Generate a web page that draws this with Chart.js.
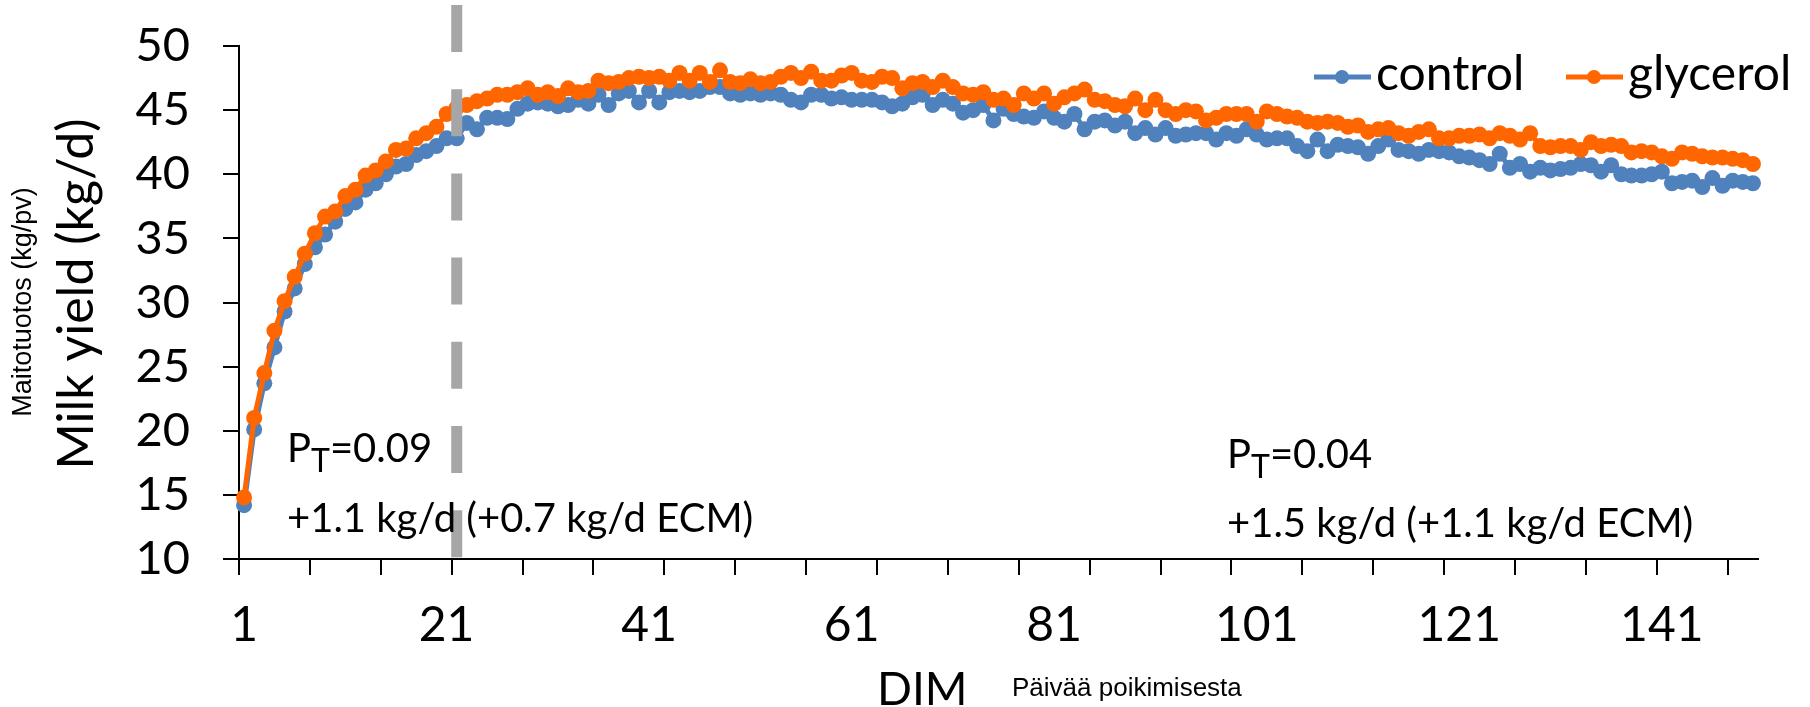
<!DOCTYPE html>
<html>
<head>
<meta charset="utf-8">
<script src="https://cdn.jsdelivr.net/npm/chart.js@4.4.0/dist/chart.umd.min.js"></script>
<style>
html, body { margin: 0; padding: 0; background: #fff; }
</style>
</head>
<body>
<canvas id="myChart" width="1810" height="707"></canvas>
<script>
// days in milk, 1..150
var days = [];
for (var d = 1; d <= 150; d++) days.push(String(d));
var xTickLabels = ['1', '21', '41', '61', '81', '101', '121', '141'];
var treatmentLineDay = '22';

var control = [
  14.2, 20.1, 23.7, 26.5, 29.3, 31.1, 33.0, 34.3, 35.3, 36.3,
  37.3, 37.8, 38.8, 39.3, 40.0, 40.6, 40.8, 41.5, 41.8, 42.2,
  42.8, 42.8, 44.0, 43.5, 44.4, 44.4, 44.3, 45.1, 45.5, 45.6,
  45.5, 45.3, 45.4, 45.8, 45.5, 46.2, 45.4, 46.3, 46.5, 45.6,
  46.5, 45.6, 46.4, 46.5, 46.4, 46.5, 46.8, 46.8, 46.3, 46.2,
  46.3, 46.2, 46.3, 46.2, 45.8, 45.6, 46.2, 46.2, 45.9, 46.0,
  45.8, 45.8, 45.8, 45.6, 45.3, 45.5, 46.0, 46.2, 45.4, 45.8,
  45.5, 44.8, 45.0, 45.4, 44.2, 45.1, 44.7, 44.5, 44.4, 44.9,
  44.4, 44.1, 44.7, 43.5, 44.1, 44.2, 43.8, 44.1, 43.2, 43.6,
  43.1, 43.6, 43.0, 43.1, 43.2, 43.2, 42.7, 43.2, 43.0, 43.5,
  43.1, 42.7, 42.8, 42.8, 42.2, 41.8, 42.7, 41.8, 42.3, 42.2,
  42.1, 41.6, 42.2, 42.7, 41.9, 41.8, 41.6, 41.9, 41.8, 41.7,
  41.4, 41.3, 41.1, 40.8, 41.6, 40.5, 40.8, 40.2, 40.5, 40.3,
  40.4, 40.5, 40.8, 40.7, 40.2, 40.7, 40.0, 39.9, 39.9, 40.0,
  40.2, 39.3, 39.4, 39.5, 39.0, 39.7, 39.1, 39.5, 39.4, 39.3
];

var glycerol = [
  14.8, 21.0, 24.5, 27.8, 30.1, 32.0, 33.8, 35.4, 36.7, 37.1,
  38.3, 38.8, 39.9, 40.3, 41.0, 41.9, 42.0, 42.8, 43.2, 43.7,
  44.7, 45.2, 45.4, 45.7, 45.9, 46.2, 46.2, 46.4, 46.7, 46.2,
  46.4, 46.1, 46.7, 46.4, 46.5, 47.3, 47.1, 47.2, 47.5, 47.6,
  47.5, 47.6, 47.3, 47.9, 47.3, 47.9, 47.2, 48.1, 47.2, 47.1,
  47.4, 47.1, 47.2, 47.6, 47.9, 47.5, 48.0, 47.3, 47.3, 47.7,
  47.9, 47.3, 47.2, 47.6, 47.5, 46.7, 47.1, 47.2, 46.8, 47.3,
  46.8, 46.3, 46.2, 46.4, 45.8, 45.9, 45.4, 46.3, 45.9, 46.3,
  45.5, 46.0, 46.3, 46.6, 45.8, 45.7, 45.4, 45.3, 45.9, 45.0,
  45.8, 45.0, 44.7, 45.0, 44.9, 44.2, 44.4, 44.7, 44.7, 44.7,
  44.1, 44.9, 44.7, 44.5, 44.4, 44.1, 44.0, 44.1, 44.0, 43.7,
  43.8, 43.3, 43.5, 43.6, 43.2, 43.0, 43.3, 43.5, 42.8, 42.8,
  43.0, 43.0, 43.1, 42.8, 43.2, 43.0, 42.7, 43.2, 42.2, 42.1,
  42.2, 42.2, 41.9, 42.5, 42.2, 42.3, 42.2, 41.7, 41.8, 41.7,
  41.4, 41.2, 41.7, 41.6, 41.4, 41.3, 41.3, 41.2, 41.1, 40.8
];

var blue = '#4f81bd';
var orange = '#ff6600';
var gill = 'Lato, "Open Sans", sans-serif';

// dashed line, annotations, titles and legend
var extras = {
  id: 'extras',
  afterDatasetsDraw: function (chart) {
    var ctx = chart.ctx;
    var px = chart.scales.x.getPixelForValue(days.indexOf(treatmentLineDay));
    ctx.save();
    ctx.strokeStyle = '#a6a6a6';
    ctx.lineWidth = 11;
    ctx.setLineDash([47, 37.2]);
    ctx.beginPath();
    ctx.moveTo(px, 5);
    ctx.lineTo(px, chart.scales.y.bottom);
    ctx.stroke();
    ctx.restore();
  },
  afterDraw: function (chart) {
    var ctx = chart.ctx;
    ctx.save();
    ctx.fillStyle = '#000';
    ctx.textBaseline = 'alphabetic';
    ctx.textAlign = 'left';

    function pt(x, y, val) {
      ctx.font = '40px ' + gill;
      ctx.fillText('P', x, y);
      var w = ctx.measureText('P').width;
      ctx.font = '32px ' + gill;
      ctx.fillText('T', x + w, y + 10);
      var w2 = ctx.measureText('T').width;
      ctx.font = '40px ' + gill;
      ctx.fillText('=' + val, x + w + w2, y);
    }
    pt(287, 462, '0.09');
    ctx.font = '40px ' + gill;
    ctx.fillText('+1.1 kg/d (+0.7 kg/d ECM)', 287, 532);
    pt(1227, 468, '0.04');
    ctx.font = '40px ' + gill;
    ctx.fillText('+1.5 kg/d (+1.1 kg/d ECM)', 1227, 537);

    // axis titles
    ctx.font = '46px ' + gill;
    ctx.fillText('DIM', 877, 705);
    ctx.font = '26px "Liberation Sans", Arial, sans-serif';
    ctx.fillText('Päivää poikimisesta', 1012, 696);

    ctx.save();
    ctx.translate(77, 294);
    ctx.rotate(-Math.PI / 2);
    ctx.textAlign = 'center';
    ctx.textBaseline = 'middle';
    ctx.font = '50px ' + gill;
    ctx.fillText('Milk yield (kg/d)', 0, 0);
    ctx.restore();

    ctx.save();
    ctx.translate(24, 302);
    ctx.rotate(-Math.PI / 2);
    ctx.textAlign = 'center';
    ctx.textBaseline = 'middle';
    ctx.font = '27px "Liberation Sans", Arial, sans-serif';
    ctx.fillText('Maitotuotos (kg/pv)', 0, 0);
    ctx.restore();

    // legend
    var items = [
      { ds: chart.data.datasets[0], x: 1314 },
      { ds: chart.data.datasets[1], x: 1566 }
    ];
    items.forEach(function (it) {
      ctx.strokeStyle = it.ds.borderColor;
      ctx.fillStyle = it.ds.borderColor;
      ctx.lineWidth = 5;
      ctx.beginPath();
      ctx.moveTo(it.x, 77);
      ctx.lineTo(it.x + 57, 77);
      ctx.stroke();
      ctx.beginPath();
      ctx.arc(it.x + 28, 77, 7, 0, Math.PI * 2);
      ctx.fill();
      ctx.fillStyle = '#000';
      ctx.font = '48px ' + gill;
      ctx.fillText(it.ds.label, it.x + 62, 90);
    });
    ctx.restore();
  }
};

new Chart('myChart', {
  type: 'line',
  data: {
    labels: days,
    datasets: [{
      label: 'control',
      data: control,
      borderColor: blue,
      backgroundColor: blue,
      borderWidth: 5,
      pointRadius: 8,
      pointBorderWidth: 0,
      fill: false,
      order: 2
    }, {
      label: 'glycerol',
      data: glycerol,
      borderColor: orange,
      backgroundColor: orange,
      borderWidth: 5,
      pointRadius: 8,
      pointBorderWidth: 0,
      fill: false,
      order: 1
    }]
  },
  options: {
    responsive: false,
    animation: false,
    devicePixelRatio: 1,
    layout: { padding: { left: 0, right: 52, top: 46, bottom: 0 } },
    plugins: {
      legend: { display: false },
      tooltip: { enabled: false }
    },
    scales: {
      x: {
        type: 'category',
        offset: true,
        afterFit: function (scale) {
          scale.height = 148;
          scale.paddingLeft = 0;
          scale.paddingRight = 0;
        },
        border: { color: '#000', width: 2 },
        grid: {
          offset: true,
          drawOnChartArea: false,
          tickLength: 16,
          lineWidth: 2,
          color: function (c) { return c.index % 7 === 0 ? '#000' : 'rgba(0,0,0,0)'; },
          tickColor: function (c) { return c.index % 7 === 0 ? '#000' : 'rgba(0,0,0,0)'; }
        },
        ticks: {
          autoSkip: false,
          maxRotation: 0,
          padding: 22,
          color: '#000',
          font: { family: gill, size: 48 },
          callback: function (v, i) {
            var lab = this.getLabelForValue(v);
            return xTickLabels.indexOf(lab) >= 0 ? lab : '';
          }
        }
      },
      y: {
        min: 10,
        max: 50,
        afterFit: function (scale) {
          scale.width = 239;
          scale.paddingTop = 0;
          scale.paddingBottom = 0;
        },
        border: { color: '#000', width: 2 },
        grid: {
          drawOnChartArea: false,
          tickLength: 16,
          lineWidth: 2,
          color: '#000'
        },
        ticks: {
          stepSize: 5,
          padding: 33,
          color: '#000',
          font: { family: gill, size: 47 }
        }
      }
    }
  },
  plugins: [extras]
});
</script>
</body>
</html>
